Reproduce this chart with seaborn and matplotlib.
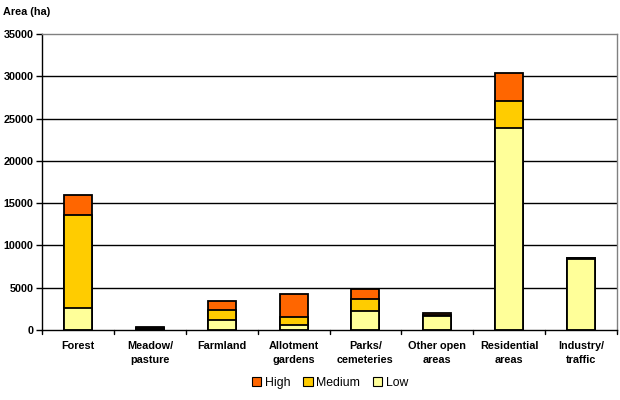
import matplotlib
matplotlib.use("Agg")
import matplotlib.pyplot as plt
import seaborn as sns
import numpy as np
import pandas as pd
from matplotlib.patches import Patch

categories = ["Forest", "Meadow/\npasture", "Farmland", "Allotment\ngardens",
              "Parks/\ncemeteries", "Other open\nareas", "Residential\nareas", "Industry/\ntraffic"]
low = [2650, 150, 1220, 590, 2250, 1600, 23900, 8400]
medium = [10980, 100, 1110, 990, 1420, 220, 3200, 70]
high = [2330, 100, 1100, 2640, 1220, 180, 3250, 50]
series_names = ["High", "Medium", "Low"]
colors = {"High": "#FF6600", "Medium": "#FFCC00", "Low": "#FFFF99"}
yticks = [0, 5000, 10000, 15000, 20000, 25000, 30000, 35000]

sns.set_theme(style="white")
plt.rcParams['font.family'] = ['Liberation Sans', 'DejaVu Sans']
plt.rcParams['text.color'] = 'black'
plt.rcParams['xtick.color'] = 'black'
plt.rcParams['ytick.color'] = 'black'

low_a = np.array(low); med_a = np.array(medium); high_a = np.array(high)
df = pd.DataFrame({
    "cat": categories,
    "High": low_a + med_a + high_a,
    "Medium": low_a + med_a,
    "Low": low_a,
})

fig = plt.figure(figsize=(6.2, 4.0), dpi=100)
ax = fig.add_axes([42/620, 1-330/400, 575/620, 296/400])

for yv in yticks[1:-1]:
    ax.axhline(yv, color="black", lw=1.0, zorder=0)

for name in series_names:
    sns.barplot(data=df, x="cat", y=name, color=colors[name], saturation=1,
                width=0.39, edgecolor="black", linewidth=1.3, ax=ax, zorder=2)

ax.set_ylim(0, 35000)
ax.set_xlim(-0.5, len(categories) - 0.5)
ax.set_yticks(yticks)
ax.set_yticklabels([str(v) for v in yticks], fontsize=7.8, fontweight="bold", color="black")
ax.set_xticks(range(len(categories)))
ax.set_xticklabels(categories, fontsize=7.8, fontweight="bold", linespacing=1.5, color="black")
ax.set_xlabel("")
ax.set_ylabel("")
ax.tick_params(axis="x", length=0, pad=8)
ax.tick_params(axis="y", length=4, width=1, direction="out", pad=2, left=True, color="black")
for xb in np.arange(-0.5, len(categories), 1.0):
    ax.plot([xb, xb], [0, -0.013], color="black", lw=1, transform=ax.get_xaxis_transform(), clip_on=False)

for s in ["left", "bottom"]:
    ax.spines[s].set_color("black"); ax.spines[s].set_linewidth(1.0)
for s in ["top", "right"]:
    ax.spines[s].set_color("#808080"); ax.spines[s].set_linewidth(1.0)

fig.text(3/620, 1-12/400, "Area (ha)", fontsize=7.8, fontweight="bold", va="center", ha="left", color="black")

handles = [Patch(facecolor=colors[n], edgecolor="black", linewidth=0.8) for n in series_names]
leg = fig.legend(handles, series_names, loc="center", bbox_to_anchor=(330/620, 1-383/400), ncol=3,
                 frameon=False, fontsize=8.8, handlelength=0.8, handleheight=0.8,
                 handletextpad=0.3, columnspacing=1.0)
for t in leg.get_texts():
    t.set_color("black")

fig.savefig("out.png", dpi=100)
